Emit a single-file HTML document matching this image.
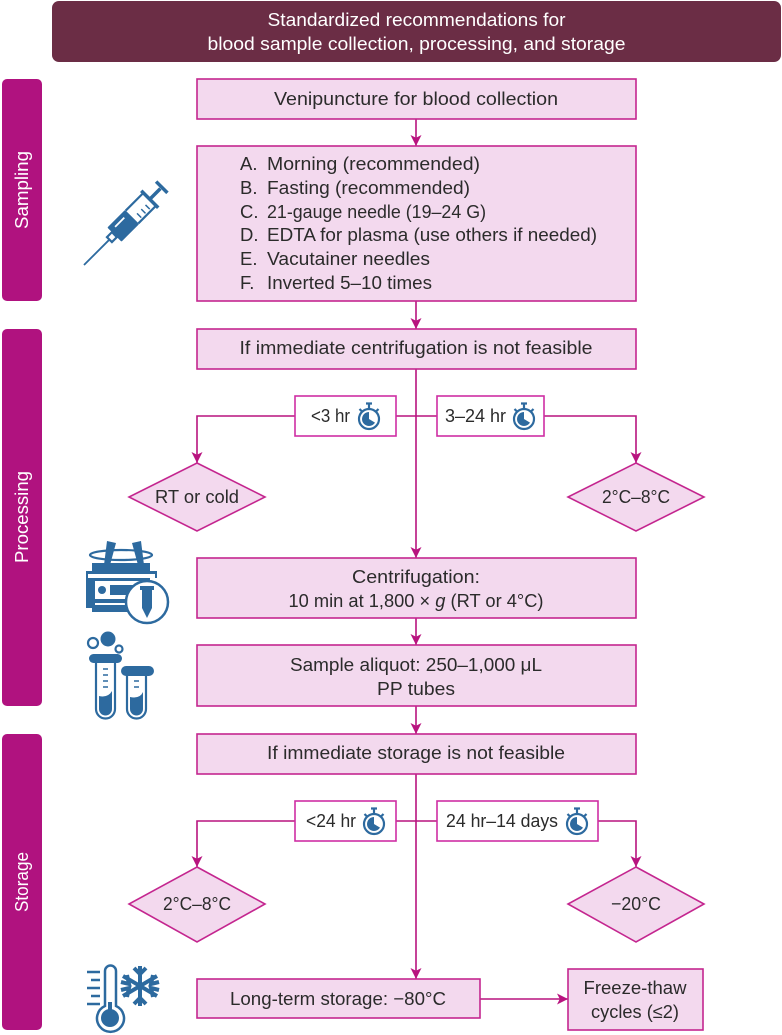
<!DOCTYPE html>
<html><head><meta charset="utf-8"><style>
html,body{margin:0;padding:0;background:#fff}
svg{display:block}
text{font-family:"Liberation Sans",sans-serif;font-size:18.5px;fill:#2b2b2b}
.w{fill:#fff}
.b{fill:#f3d9ee;stroke:#c4268f;stroke-width:1.6}
.o{fill:#fff;stroke:#cf2ea3;stroke-width:1.6}
.l{fill:none;stroke:#b8147f;stroke-width:1.6}
.i{fill:#2d6a9f}
.s{fill:none;stroke:#2d6a9f;stroke-width:2.2}
</style></head><body>
<svg width="782" height="1035" viewBox="0 0 782 1035" xmlns="http://www.w3.org/2000/svg">
<defs>
<marker id="a" viewBox="0 0 10 10" refX="10" refY="5" markerWidth="11" markerHeight="11" markerUnits="userSpaceOnUse" orient="auto"><path d="M0 0L10 5L0 10L2.5 5Z" fill="#b8147f"/></marker>
<g id="clock"><circle cx="0" cy="3" r="10" class="s"/><path d="M0 3V-4A7 7 0 1 0 6 6.600Z" class="i"/><path d="M-3-12.500H3M0-12.500V-7M-9.500-7L-7-4.500M9.500-7L7-4.500" class="s"/></g>
</defs>

<rect x="52" y="1" width="729" height="61" rx="7" fill="#6b2d45"/>
<text class="w" x="416.5" y="26" text-anchor="middle" textLength="298" lengthAdjust="spacingAndGlyphs">Standardized recommendations for</text>
<text class="w" x="416.5" y="50" text-anchor="middle" textLength="418" lengthAdjust="spacingAndGlyphs">blood sample collection, processing, and storage</text>

<rect x="2" y="79" width="40" height="222" rx="5" fill="#b0127f"/>
<rect x="2" y="329" width="40" height="377" rx="5" fill="#b0127f"/>
<rect x="2" y="734" width="40" height="296" rx="5" fill="#b0127f"/>
<text class="w" transform="translate(28 190) rotate(-90)" text-anchor="middle" textLength="78" lengthAdjust="spacingAndGlyphs">Sampling</text>
<text class="w" transform="translate(28 517) rotate(-90)" text-anchor="middle" textLength="92" lengthAdjust="spacingAndGlyphs">Processing</text>
<text class="w" transform="translate(28 882) rotate(-90)" text-anchor="middle" textLength="60" lengthAdjust="spacingAndGlyphs">Storage</text>

<path class="l" d="M416 119V146" marker-end="url(#a)"/>
<path class="l" d="M416 301V329" marker-end="url(#a)"/>
<path class="l" d="M416 369V558" marker-end="url(#a)"/>
<path class="l" d="M416 618V645" marker-end="url(#a)"/>
<path class="l" d="M416 706V734" marker-end="url(#a)"/>
<path class="l" d="M416 774V979" marker-end="url(#a)"/>
<path class="l" d="M295 416H197V463" marker-end="url(#a)"/>
<path class="l" d="M396 416H437"/>
<path class="l" d="M544 416H636V463" marker-end="url(#a)"/>
<path class="l" d="M295 821H197V867" marker-end="url(#a)"/>
<path class="l" d="M396 821H437"/>
<path class="l" d="M598 821H636V867" marker-end="url(#a)"/>
<path class="l" d="M480 999H568" marker-end="url(#a)"/>

<rect class="b" x="197" y="79" width="439" height="40"/>
<text x="416" y="105" text-anchor="middle" textLength="284" lengthAdjust="spacingAndGlyphs">Venipuncture for blood collection</text>

<rect class="b" x="197" y="146" width="439" height="155"/>
<text x="240" y="170">A.</text><text x="267" y="170" textLength="213" lengthAdjust="spacingAndGlyphs">Morning (recommended)</text>
<text x="240" y="194">B.</text><text x="267" y="194" textLength="203" lengthAdjust="spacingAndGlyphs">Fasting (recommended)</text>
<text x="240" y="218">C.</text><text x="267" y="218" textLength="219" lengthAdjust="spacingAndGlyphs">21-gauge needle (19–24 G)</text>
<text x="240" y="241">D.</text><text x="267" y="241" textLength="330" lengthAdjust="spacingAndGlyphs">EDTA for plasma (use others if needed)</text>
<text x="240" y="265">E.</text><text x="267" y="265" textLength="163" lengthAdjust="spacingAndGlyphs">Vacutainer needles</text>
<text x="240" y="289">F.</text><text x="267" y="289" textLength="165" lengthAdjust="spacingAndGlyphs">Inverted 5–10 times</text>

<rect class="b" x="197" y="329" width="439" height="40"/>
<text x="416" y="354" text-anchor="middle" textLength="353" lengthAdjust="spacingAndGlyphs">If immediate centrifugation is not feasible</text>

<rect class="o" x="295" y="396" width="101" height="40"/>
<text x="311" y="422" textLength="39" lengthAdjust="spacingAndGlyphs">&lt;3 hr</text>
<use href="#clock" x="369" y="416"/>
<rect class="o" x="437" y="396" width="107" height="40"/>
<text x="445" y="422" textLength="61" lengthAdjust="spacingAndGlyphs">3–24 hr</text>
<use href="#clock" x="524" y="416"/>

<polygon class="b" points="197,463 265,497 197,531 129,497"/>
<text x="197" y="503" text-anchor="middle" textLength="84" lengthAdjust="spacingAndGlyphs">RT or cold</text>
<polygon class="b" points="636,463 704,497 636,531 568,497"/>
<text x="636" y="503" text-anchor="middle" textLength="68" lengthAdjust="spacingAndGlyphs">2°C–8°C</text>

<rect class="b" x="197" y="558" width="439" height="60"/>
<text x="416" y="583" text-anchor="middle" textLength="128" lengthAdjust="spacingAndGlyphs">Centrifugation:</text>
<text x="416" y="607" text-anchor="middle" textLength="255" lengthAdjust="spacingAndGlyphs">10 min at 1,800 × <tspan font-style="italic">g</tspan> (RT or 4°C)</text>

<rect class="b" x="197" y="645" width="439" height="61"/>
<text x="416" y="671" text-anchor="middle" textLength="252" lengthAdjust="spacingAndGlyphs">Sample aliquot: 250–1,000 μL</text>
<text x="416" y="695" text-anchor="middle" textLength="78" lengthAdjust="spacingAndGlyphs">PP tubes</text>

<rect class="b" x="197" y="734" width="439" height="40"/>
<text x="416" y="759" text-anchor="middle" textLength="298" lengthAdjust="spacingAndGlyphs">If immediate storage is not feasible</text>

<rect class="o" x="295" y="801" width="101" height="40"/>
<text x="306" y="827" textLength="50" lengthAdjust="spacingAndGlyphs">&lt;24 hr</text>
<use href="#clock" x="374" y="821"/>
<rect class="o" x="437" y="801" width="161" height="40"/>
<text x="446" y="827" textLength="112" lengthAdjust="spacingAndGlyphs">24 hr–14 days</text>
<use href="#clock" x="577" y="821"/>

<polygon class="b" points="197,867 265,904 197,942 129,904"/>
<text x="197" y="910" text-anchor="middle" textLength="68" lengthAdjust="spacingAndGlyphs">2°C–8°C</text>
<polygon class="b" points="636,867 704,904 636,942 568,904"/>
<text x="636" y="910" text-anchor="middle" textLength="50" lengthAdjust="spacingAndGlyphs">−20°C</text>

<rect class="b" x="197" y="979" width="283" height="39"/>
<text x="338" y="1005" text-anchor="middle" textLength="216" lengthAdjust="spacingAndGlyphs">Long-term storage: −80°C</text>

<rect class="b" x="568" y="969" width="135" height="61"/>
<text x="635" y="994" text-anchor="middle" textLength="103" lengthAdjust="spacingAndGlyphs">Freeze-thaw</text>
<text x="635" y="1018" text-anchor="middle" textLength="88" lengthAdjust="spacingAndGlyphs">cycles (≤2)</text>

<!-- syringe -->
<g transform="translate(125 224) rotate(45)">
<path d="M0 58V22" stroke="#2d6a9f" stroke-width="1.800"/>
<rect class="s" x="-3.500" y="15" width="7" height="7"/>
<rect class="i" x="-10" y="-10" width="20" height="25" rx="1"/>
<path class="s" d="M-9-10V-35H9V-10"/>
<path class="s" d="M-12-35H12M0-35V-50M-8-52H8" style="stroke-width:3.500"/>
<path d="M-5 9V-4" stroke="#fff" stroke-width="1.800"/>
<path d="M1-16H7M1-22H7M1-28H7" stroke="#2d6a9f" stroke-width="1.500"/>
</g>

<!-- centrifuge -->
<g>
<ellipse cx="121" cy="555" rx="31" ry="5" class="s"/>
<path class="i" d="M107 541L116 543L110 565H104ZM132 543L141 541L144 565H138Z"/>
<rect class="i" x="92" y="563" width="58" height="10"/>
<path class="i" d="M86 571H157V578H150V612H92V608H86Z"/>
<rect x="88" y="574" width="67" height="4" fill="#fff"/>
<rect x="95" y="581" width="50" height="24" fill="#fff"/>
<circle class="i" cx="102" cy="590" r="4"/>
<rect class="i" x="110" y="585" width="28" height="10"/>
<rect class="i" x="95" y="599" width="50" height="4"/>
<circle cx="147" cy="602" r="21" fill="#fff" stroke="#2d6a9f" stroke-width="2.500"/>
<path class="i" d="M140 586H154V590H152V608L147 618L142 608V590H140Z"/>
</g>

<!-- tubes -->
<g>
<circle class="i" cx="108" cy="639" r="7.500"/>
<circle class="s" cx="93" cy="643" r="5"/>
<circle class="s" cx="119" cy="649" r="3.500"/>
<rect class="i" x="89" y="654" width="33" height="9" rx="4.500"/>
<path class="s" d="M96 663V709A9.500 9.500 0 0 0 115 709V663"/>
<path class="i" d="M99 696Q108 698 112 691V709A6.500 6.500 0 0 1 99 709Z"/>
<path d="M103 669H108M103 675H108M103 681H108M103 687H108" stroke="#2d6a9f" stroke-width="1.500"/>
<rect class="i" x="121" y="666" width="33" height="10" rx="5"/>
<path class="s" d="M127 676V709A9.500 9.500 0 0 0 146 709V676"/>
<path class="i" d="M130 697Q140 699 143 692V709A6.500 6.500 0 0 1 130 709Z"/>
<path d="M134 681H139M134 687H139" stroke="#2d6a9f" stroke-width="1.500"/>
</g>

<!-- thermometer + snowflake -->
<g>
<path class="s" d="M105 1006V971A5.500 5.500 0 0 1 116 971V1006A13.500 13.500 0 1 1 105 1006Z" style="stroke-width:2.500"/>
<circle class="i" cx="110" cy="1018" r="9"/>
<rect class="i" x="108" y="1002" width="4" height="14"/>
<path d="M87 972H100M91 980H100M87 988H100M91 996H100M87 1004H100" stroke="#2d6a9f" stroke-width="2.500"/>
<g stroke="#2d6a9f" stroke-width="4" fill="none">
<path d="M140 966V1006M123 976L157 996M123 996L157 976"/>
<path d="M134 968L140 974L146 968M134 1004L140 998L146 1004M121 982L129 984L127 975M159 982L151 984L153 975M121 990L129 988L127 997M159 990L151 988L153 997"/>
</g>
</g>
</svg>
</body></html>
